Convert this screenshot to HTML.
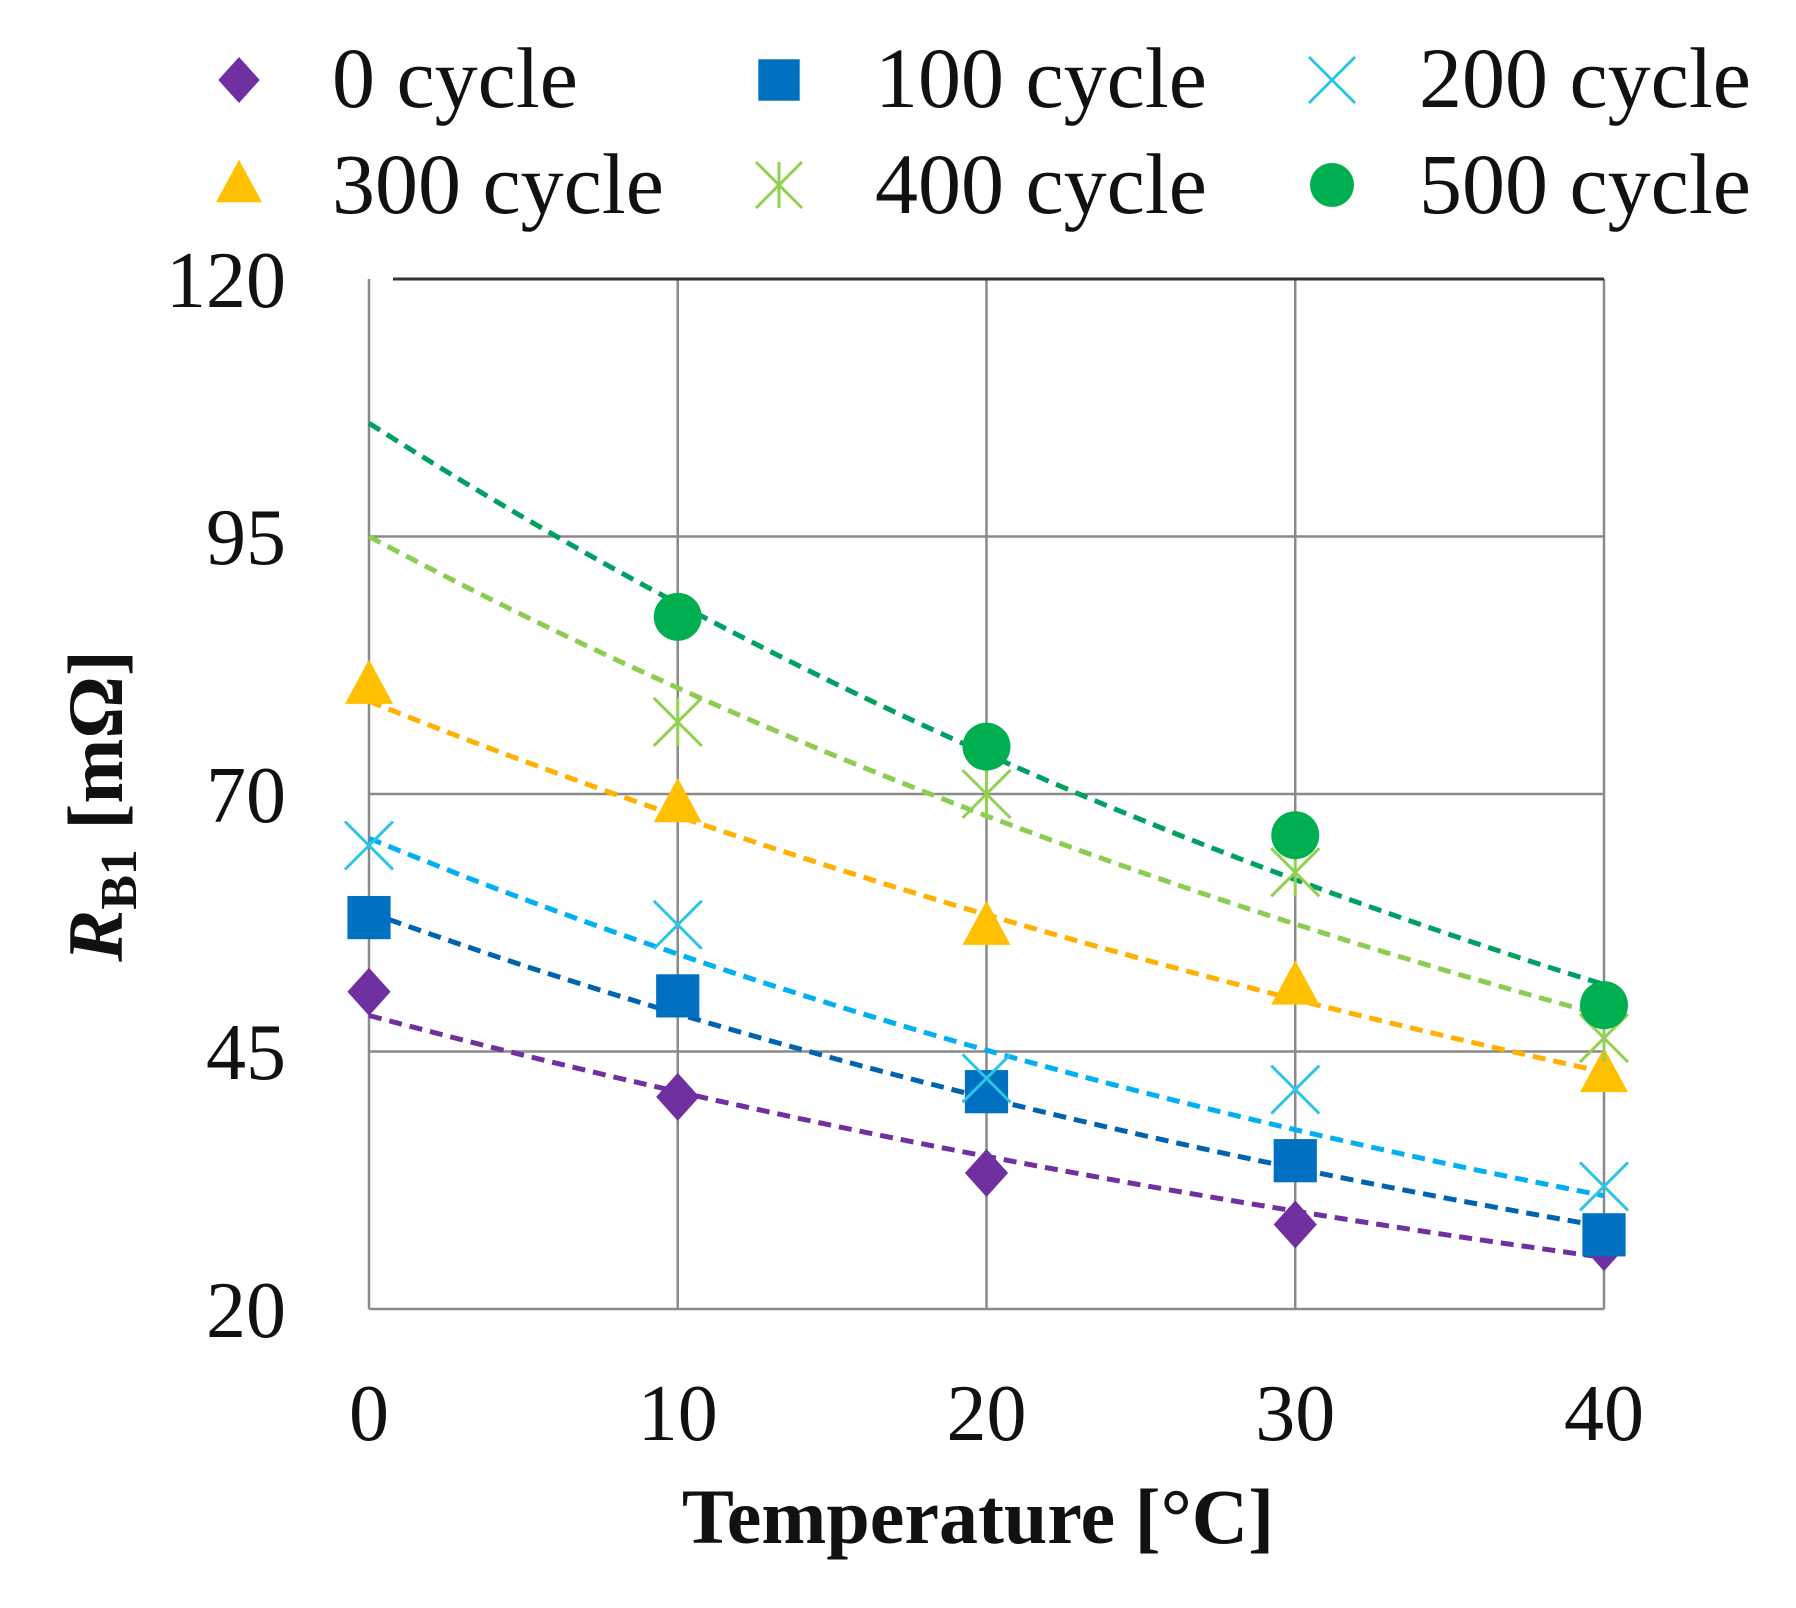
<!DOCTYPE html>
<html><head><meta charset="utf-8"><style>body{margin:0;background:#fff}svg{display:block}</style></head>
<body>
<svg id="s" xmlns="http://www.w3.org/2000/svg" width="1796" height="1608" viewBox="0 0 1796 1608" font-family="Liberation Serif, serif">
<g stroke="#8a8a8a" stroke-width="2.5" fill="none">
<line x1="369" y1="536.5" x2="1604" y2="536.5"/><line x1="369" y1="794" x2="1604" y2="794"/><line x1="369" y1="1051.5" x2="1604" y2="1051.5"/>
<line x1="677.75" y1="279" x2="677.75" y2="1309"/><line x1="986.5" y1="279" x2="986.5" y2="1309"/><line x1="1295.25" y1="279" x2="1295.25" y2="1309"/><line x1="1604" y1="279" x2="1604" y2="1309"/>
<line x1="369" y1="279" x2="369" y2="1309"/><line x1="369" y1="1309" x2="1604" y2="1309"/>
</g>
<line x1="393" y1="279" x2="1604" y2="279" stroke="#333" stroke-width="3"/>
<g font-size="80" text-anchor="end" fill="#111">
<text x="286" y="307">120</text><text x="286" y="564">95</text><text x="286" y="822">70</text><text x="286" y="1079">45</text><text x="286" y="1337">20</text>
</g>
<g font-size="80" text-anchor="middle" fill="#111">
<text x="369" y="1440">0</text><text x="677.75" y="1440">10</text><text x="986.5" y="1440">20</text><text x="1295.25" y="1440">30</text><text x="1604" y="1440">40</text>
</g>
<text x="978" y="1543" font-size="78" font-weight="bold" text-anchor="middle" fill="#111">Temperature [°C]</text>
<text transform="translate(122,806) rotate(-90)" font-size="78" font-weight="bold" text-anchor="middle" fill="#111"><tspan font-style="italic">R</tspan><tspan font-size="52" dy="14">B1</tspan><tspan dy="-14"> [mΩ]</tspan></text>
<g id="g"></g>
<g font-size="86" fill="#111">
<text x="332" y="107">0 cycle</text><text x="875" y="107">100 cycle</text><text x="1419" y="107">200 cycle</text>
<text x="332" y="213">300 cycle</text><text x="875" y="213">400 cycle</text><text x="1419" y="213">500 cycle</text>
</g>
</svg>
<script>
const X=v=>369+v*30.875, Y=v=>1309-(v-20)*10.3;
const S=[
{c:'#7030a0',lc:'#7030a0',m:'d',p:[50.8,40.6,33.2,28.2,26],a:48.5,b:25,lx:239,ly:80},
{c:'#0070c0',lc:'#0063b0',m:'s',p:[58,50.4,41.1,34.4,27.2],a:58.5,b:28,lx:779,ly:80},
{c:'#2ec4e6',lc:'#00b0f0',m:'x',p:[65,57.3,42.4,41.3,31.9],a:65.7,b:31,lx:1332,ly:80},
{c:'#ffc000',lc:'#ffb000',m:'t',p:[80.5,69,57.1,51.3,42.8],a:79,b:43,lx:239,ly:185},
{c:'#92d050',lc:'#8ccc50',m:'a',p:[null,77,70,62.4,46.3],a:95,b:48.5,lx:779,ly:185},
{c:'#00b050',lc:'#00a060',m:'o',p:[null,87.2,74.6,66,49.5],a:106,b:51.5,lx:1332,ly:185}];
function mk(m,x,y,c,r){
 if(m=='d')return `<polygon points="${x},${y-r} ${x+r*0.9},${y} ${x},${y+r} ${x-r*0.9},${y}" fill="${c}"/>`;
 if(m=='s')return `<rect x="${x-r*0.9}" y="${y-r*0.9}" width="${r*1.8}" height="${r*1.8}" fill="${c}"/>`;
 if(m=='t')return `<polygon points="${x},${y-r*1.1} ${x+r},${y+r*0.75} ${x-r},${y+r*0.75}" fill="${c}"/>`;
 if(m=='o')return `<circle cx="${x}" cy="${y}" r="${r}" fill="${c}"/>`;
 let s=`<g stroke="${c}" stroke-width="3" fill="none"><line x1="${x-r}" y1="${y-r}" x2="${x+r}" y2="${y+r}"/><line x1="${x-r}" y1="${y+r}" x2="${x+r}" y2="${y-r}"/>`;
 if(m=='a')s+=`<line x1="${x}" y1="${y-r}" x2="${x}" y2="${y+r}"/>`;
 return s+'</g>';}
let h='';
for(const s of S){let k=Math.log(s.b/s.a)/40,d='';
 for(let t=0;t<=40;t+=1)d+=(t?'L':'M')+X(t).toFixed(1)+','+Y(s.a*Math.exp(k*t)).toFixed(1);
 h+=`<path d="${d}" fill="none" stroke="${s.lc}" stroke-width="5" stroke-dasharray="13 8"/>`;}
for(const s of S){s.p.forEach((v,i)=>{if(v!=null)h+=mk(s.m,X(i*10),Y(v),s.c,24)});
 h+=mk(s.m,s.lx,s.ly,s.c,s.m=='o'?22:23);}
document.getElementById('g').innerHTML=h;
</script>
</body></html>
